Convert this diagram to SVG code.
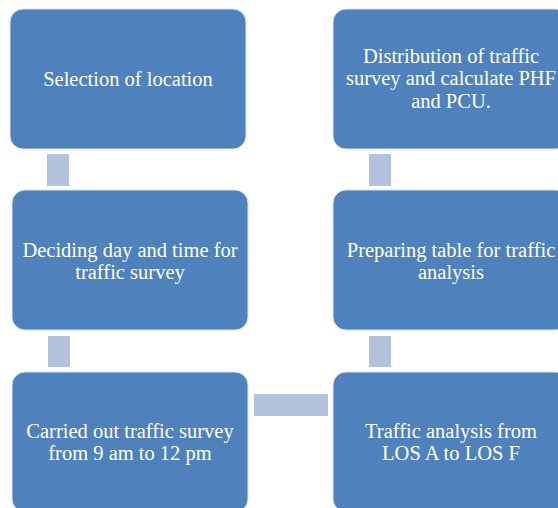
<svg xmlns="http://www.w3.org/2000/svg" width="558" height="508" viewBox="0 0 558 508">
<style>
.box{fill:#4F81BD;stroke:#DCE5F1;stroke-width:1}
.conn{fill:#B3C2DC}
.t{font-family:'Liberation Serif','Times New Roman',Tinos,serif;font-size:20.5px;fill:#FFFFFF;text-anchor:middle}
</style>
<rect width="558" height="508" fill="#FFFFFF"/>
<g id="connectors">
<rect class="conn" x="47" y="154" width="22" height="32"/>
<rect class="conn" x="48" y="336" width="22" height="31"/>
<rect class="conn" x="254" y="394" width="74" height="22"/>
<rect class="conn" x="369" y="336" width="22" height="31"/>
<rect class="conn" x="369" y="154" width="22" height="32"/>
</g>
<g id="n1">
<rect class="box" x="10" y="9" width="236" height="140" rx="13"/>
<text class="t" x="128" y="86">Selection of location</text>
</g>
<g id="n2">
<rect class="box" x="12" y="190" width="236" height="140" rx="13"/>
<text class="t" x="130" y="257">Deciding day and time for</text>
<text class="t" x="130" y="279">traffic survey</text>
</g>
<g id="n3">
<rect class="box" x="12" y="372" width="236" height="140" rx="13"/>
<text class="t" x="130" y="438">Carried out traffic survey</text>
<text class="t" x="130" y="460">from 9 am to 12 pm</text>
</g>
<g id="n4">
<rect class="box" x="333" y="372" width="236" height="140" rx="13"/>
<text class="t" x="451" y="438">Traffic analysis from</text>
<text class="t" x="451" y="460">LOS A to LOS F</text>
</g>
<g id="n5">
<rect class="box" x="333" y="190" width="236" height="140" rx="13"/>
<text class="t" x="451" y="257">Preparing table for traffic</text>
<text class="t" x="451" y="279">analysis</text>
</g>
<g id="n6">
<rect class="box" x="333" y="9" width="236" height="140" rx="13"/>
<text class="t" x="451" y="63">Distribution of traffic</text>
<text class="t" x="451" y="85">survey and calculate PHF</text>
<text class="t" x="451" y="108">and PCU.</text>
</g>
</svg>
